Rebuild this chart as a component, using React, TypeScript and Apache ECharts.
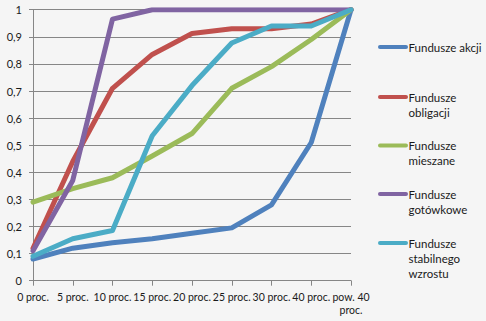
import React, { useEffect, useRef } from "react";
import * as echarts from "echarts";

const categories = ["0 proc.", "5 proc.", "10 proc.", "15 proc.", "20 proc.", "25 proc.", "30 proc.", "40 proc.", "pow. 40 proc."];
const seriesNames = ["Fundusze akcji", "Fundusze obligacji", "Fundusze mieszane", "Fundusze gotówkowe", "Fundusze stabilnego wzrostu"];
const akcji = [0.08, 0.12, 0.14, 0.155, 0.175, 0.195, 0.28, 0.51, 1.0];
const obligacji = [0.12, 0.44, 0.71, 0.835, 0.912, 0.93, 0.93, 0.947, 1.0];
const mieszane = [0.29, 0.34, 0.38, 0.46, 0.543, 0.71, 0.79, 0.89, 1.0];
const gotowkowe = [0.11, 0.37, 0.965, 1.0, 1.0, 1.0, 1.0, 1.0, 1.0];
const stabilnego = [0.09, 0.155, 0.185, 0.535, 0.72, 0.877, 0.94, 0.94, 1.0];
const seriesData = [akcji, obligacji, mieszane, gotowkowe, stabilnego];
const legendLabels = ["Fundusze akcji", "Fundusze\nobligacji", "Fundusze\nmieszane", "Fundusze\ngotówkowe", "Fundusze\nstabilnego\nwzrostu"];
const colors = ["#4F81BD", "#C0504D", "#9BBB59", "#8064A2", "#4BACC6"];

const FONT = "Lato, 'Open Sans', sans-serif";
const legendCenters = [47, 97, 145.5, 194, 243];

export default function App() {
  const ref = useRef<HTMLDivElement>(null);
  useEffect(() => {
    if (!ref.current) return;
    const chart = echarts.init(ref.current, undefined, { renderer: "svg" });
    const lineH = 15;
    const legendGraphics: any[] = [];
    seriesNames.forEach((name, i) => {
      const cy = legendCenters[i];
      legendGraphics.push({
        type: "line",
        shape: { x1: 380, y1: cy, x2: 406, y2: cy },
        style: { stroke: colors[i], lineWidth: 4, lineCap: "round" },
        silent: true,
      });
      legendGraphics.push({
        type: "text",
        x: 408.5,
        y: cy - lineH / 2,
        style: {
          text: legendLabels[i],
          fontFamily: FONT,
          fontSize: 11.5,
          lineHeight: lineH,
          fill: "#1a1a1a",
          align: "left",
          verticalAlign: "top",
        },
        silent: true,
      });
    });
    chart.setOption({
      animation: false,
      backgroundColor: "#f5f5f5",
      textStyle: { fontFamily: FONT },
      grid: { left: 33, right: 135, top: 9.7, bottom: 40.3, containLabel: false },
      legend: { show: false, data: seriesNames },
      graphic: legendGraphics,
      xAxis: {
        type: "category",
        data: categories,
        boundaryGap: false,
        axisLine: { show: true, lineStyle: { color: "#868686", width: 1 } },
        axisTick: { show: true, alignWithLabel: true, length: 5, lineStyle: { color: "#868686" } },
        axisLabel: {
          interval: 0,
          margin: 10,
          fontFamily: FONT,
          fontSize: 10.5,
          color: "#1a1a1a",
          lineHeight: 13,
          formatter: (v: string) => v.replace("pow. 40 proc.", "pow. 40\nproc."),
        },
        splitLine: { show: false },
      },
      yAxis: {
        type: "value",
        min: 0,
        max: 1,
        interval: 0.1,
        axisLine: { show: true, lineStyle: { color: "#868686", width: 1 } },
        axisTick: { show: true, inside: false, length: 4, lineStyle: { color: "#868686" } },
        axisLabel: {
          margin: 11,
          fontFamily: FONT,
          fontSize: 11,
          color: "#1a1a1a",
          formatter: (v: number) => String(Math.round(v * 10) / 10).replace(".", ","),
        },
        splitLine: { show: true, lineStyle: { color: "#868686", width: 1 } },
      },
      series: seriesNames.map((name, i) => ({
        name,
        type: "line",
        data: seriesData[i],
        symbol: "none",
        lineStyle: { width: 5, color: colors[i], join: "round", cap: "round" },
        itemStyle: { color: colors[i] },
      })),
    });
    return () => chart.dispose();
  }, []);
  return <div ref={ref} style={{ width: 486, height: 321, position: "absolute", left: 0, top: 0 }} />;
}
